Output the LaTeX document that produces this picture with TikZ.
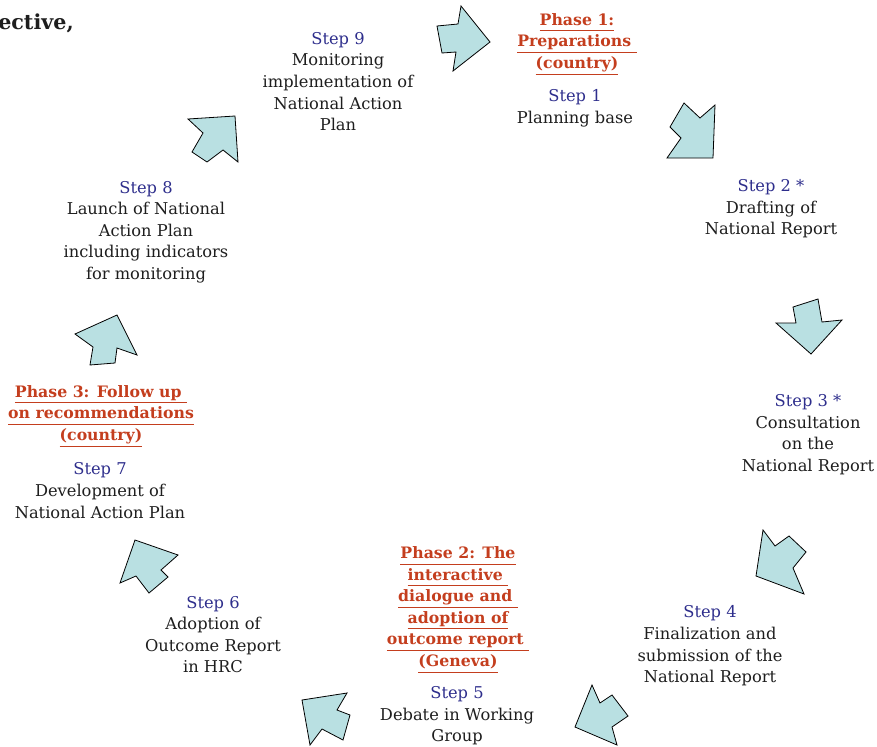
\documentclass[tikz,border=0pt]{standalone}
\usepackage{fontspec}
\setmainfont{DejaVu Serif}
\usepackage{tikz}
\definecolor{phasered}{RGB}{196,62,30}
\definecolor{stepblue}{RGB}{46,46,140}
\definecolor{bodygray}{RGB}{30,30,30}
\definecolor{arrowfill}{RGB}{185,224,226}
\newcommand{\clrphase}{phasered}
\newcommand{\clrstep}{stepblue}
\newcommand{\steplabel}[1]{{\color{\clrstep}#1}}
\newcommand{\phaseul}[1]{\underline{#1\vphantom{(y}}}

\begin{document}
\begin{tikzpicture}[x=0.75pt, y=-0.75pt,
    steptext/.style={align=center, inner sep=0pt, text=bodygray, font=\fontsize{12.2}{16.2}\selectfont},
    phasetext/.style={align=center, inner sep=0pt, text=\clrphase, font=\fontsize{11.8}{16.2}\selectfont\bfseries},
    cyclearrow/.style={fill=arrowfill, draw=black, line width=0.6pt, line join=miter}]
    \useasboundingbox (0,0) rectangle (877,746);
    %cut off title
        \node[anchor=west, inner sep=0pt, text=bodygray, font=\fontsize{15.5}{18}\selectfont\bfseries] (title) at (-2,23) {ective,};
    %phases
        \node[phasetext] (p1) at (577,44) {\phaseul{Phase 1:}\\\phaseul{Preparations\ }\\\phaseul{(country)}};
        \node[phasetext] (p2) at (458,609.5) {\phaseul{Phase 2: The}\\\phaseul{interactive\ }\\\phaseul{dialogue and\ }\\\phaseul{adoption of}\\\phaseul{outcome report\ }\\\phaseul{(Geneva)}};
        \node[phasetext] (p3) at (101,416) {\phaseul{Phase 3: Follow up\ }\\\phaseul{on recommendations}\\\phaseul{(country)}};
    %steps
        \node[steptext] (s1) at (575,108) {\steplabel{Step 1}\\Planning base};
        \node[steptext] (s2) at (771,209) {\steplabel{Step 2 *}\\Drafting of\\National Report};
        \node[steptext] (s3) at (808,434.5) {\steplabel{Step 3 *}\\Consultation\\on the\\National Report};
        \node[steptext] (s4) at (710,646) {\steplabel{Step 4}\\Finalization and\\submission of the\\National Report};
        \node[steptext] (s5) at (457,716) {\steplabel{Step 5}\\Debate in Working\\Group};
        \node[steptext] (s6) at (213,634.5) {\steplabel{Step 6}\\Adoption of\\Outcome Report\\in HRC};
        \node[steptext] (s7) at (100,490.5) {\steplabel{Step 7}\\Development of\\National Action Plan};
        \node[steptext] (s8) at (146,232) {\steplabel{Step 8}\\Launch of National\\Action Plan\\including indicators\\for monitoring};
        \node[steptext] (s9) at (338,81.5) {\steplabel{Step 9}\\Monitoring\\implementation of\\National Action\\Plan};
    %arrows round the cycle, drawn by hand
        %9 to 1
        \draw[cyclearrow] (437,26) -- (458,24) -- (461,6) -- (490,42) -- (453,71) -- (456,52) -- (442,53) -- cycle;
        %1 to 2
        \draw[cyclearrow] (667,158) -- (681,138) -- (670,127) -- (684,103) -- (700,118) -- (715,105) -- (713,158) -- cycle;
        %2 to 3
        \draw[cyclearrow] (776,323) -- (796,323) -- (793,307) -- (818,299) -- (822,322) -- (842,320) -- (811,354) -- cycle;
        %3 to 4
        \draw[cyclearrow] (763,530) -- (775,546) -- (789,536) -- (806,552) -- (793,568) -- (804,594) -- (756,576) -- cycle;
        %4 to 5
        \draw[cyclearrow] (592,685) -- (600,703) -- (612,695) -- (628,716) -- (612,727) -- (617,745) -- (575,727) -- cycle;
        %5 to 6
        \draw[cyclearrow] (302,700) -- (347,693) -- (337,710) -- (350,715) -- (343,740) -- (322,729) -- (310,745) -- cycle;
        %6 to 7
        \draw[cyclearrow] (135,540) -- (178,555) -- (161,570) -- (168,577) -- (149,593) -- (136,576) -- (120,583) -- cycle;
        %7 to 8
        \draw[cyclearrow] (117,315) -- (137,355) -- (117,348) -- (115,363) -- (90,365) -- (93,347) -- (75,334) -- cycle;
        %8 to 9
        \draw[cyclearrow] (188,119) -- (235,116) -- (238,162) -- (223,150) -- (207,162) -- (192,152) -- (203,133) -- cycle;
\end{tikzpicture}
\end{document}
